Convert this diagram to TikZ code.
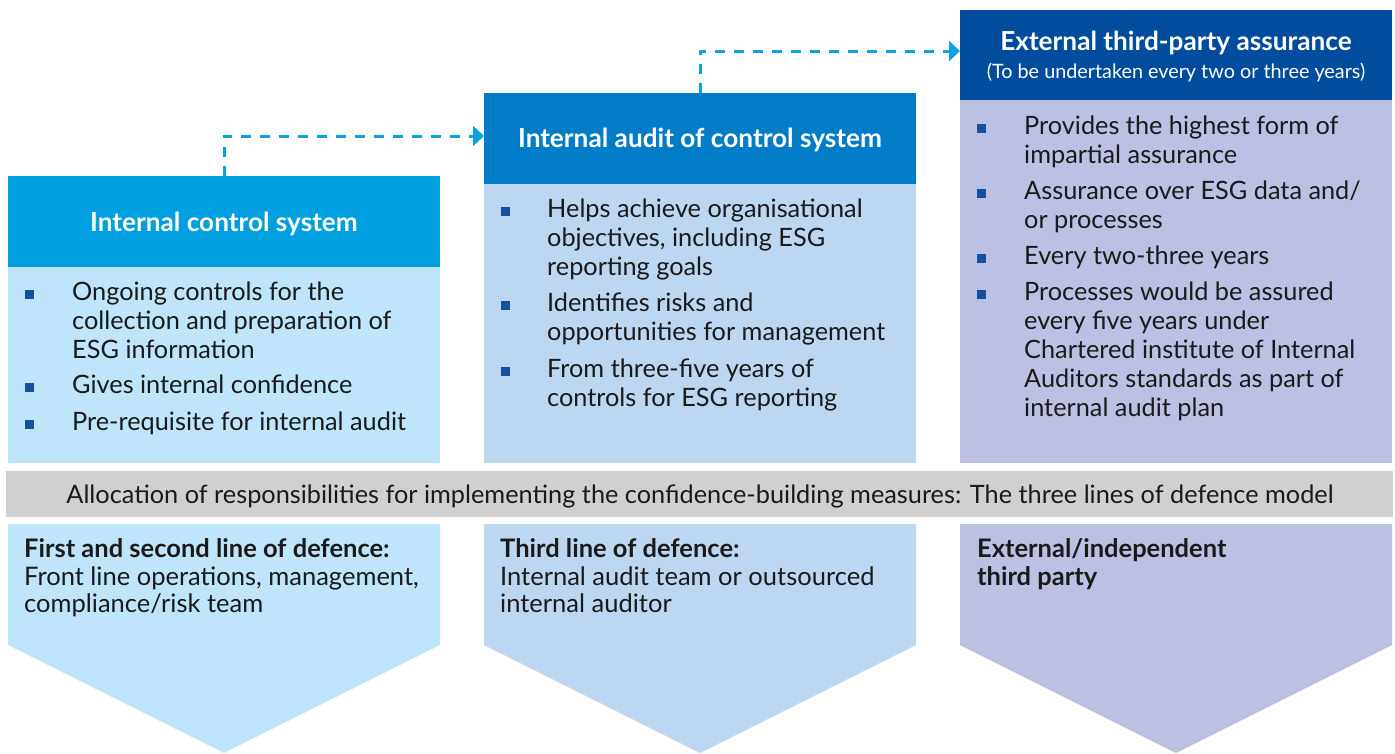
\documentclass[tikz,border=0pt]{standalone}
\usepackage{fontspec}
\setmainfont{Lato}
\usetikzlibrary{arrows.meta}
\definecolor{hdA}{HTML}{009FE0}
\definecolor{bdA}{HTML}{BEE5F9}
\definecolor{hdB}{HTML}{007DC6}
\definecolor{bdB}{HTML}{BDD7F1}
\definecolor{hdC}{HTML}{014C9C}
\definecolor{bdC}{HTML}{BCC0E3}
\definecolor{barG}{HTML}{D0D0D0}
\definecolor{bul}{HTML}{1450A0}
\definecolor{arr}{HTML}{0FA0E0}
\definecolor{ink}{HTML}{1A1A1A}
\tikzset{
  txt/.style={anchor=base west, inner sep=0pt, text=ink, font=\fontsize{25.3}{29}\selectfont},
  ttl/.style={anchor=base, inner sep=0pt, text=white, font=\bfseries\fontsize{26.2}{30}\selectfont},
  sub/.style={anchor=base, inner sep=0pt, text=white, font=\fontsize{19.8}{23}\selectfont},
  bot/.style={anchor=base west, inner sep=0pt, text=ink, font=\fontsize{25.5}{28}\selectfont},
  botb/.style={bot, font=\bfseries\fontsize{25.5}{28}\selectfont},
  sq/.style={fill=bul, draw=none},
  flow/.style={draw=arr, line width=3pt, dash pattern=on 10pt off 9pt, -{Triangle[length=11pt,width=20pt]}},
}
\begin{document}
\begin{tikzpicture}[x=1pt,y=-1pt]
\useasboundingbox (0,0) rectangle (1395,753);
% column boxes
\fill[hdA] (8,176) rectangle (440,267);
\fill[bdA] (8,267) rectangle (440,463);
\fill[hdB] (484,93) rectangle (916,184);
\fill[bdB] (484,184) rectangle (916,463);
\fill[hdC] (960,10) rectangle (1392,100);
\fill[bdC] (960,100) rectangle (1392,463);
\node[inner sep=0pt, minimum width=432pt, minimum height=91pt, anchor=north west] (hA) at (8,176) {};
\node[inner sep=0pt, minimum width=432pt, minimum height=91pt, anchor=north west] (hB) at (484,93) {};
\node[inner sep=0pt, minimum width=432pt, minimum height=90pt, anchor=north west] (hC) at (960,10) {};
% titles
\node[ttl] (tA) at (224,231) {Internal control system};
\node[ttl] (tB) at (700,147) {Internal audit of control system};
\node[ttl] (tC) at (1176,50) {External third-party assurance};
\node[sub] (sC) at (1176,78) {(To be undertaken every two or three years)};
% column 1 bullets
\fill[sq] (25,289.5) rectangle (34,298.5);
\fill[sq] (25,382.5) rectangle (34,391.5);
\fill[sq] (25,419.5) rectangle (34,428.5);
\node[txt] (a1) at (72,300) {Ongoing controls for the};
\node[txt] (a2) at (72,329) {collection and preparation of};
\node[txt] (a3) at (72,358) {ESG information};
\node[txt] (a4) at (72,393) {Gives internal confidence};
\node[txt] (a5) at (72,430) {Pre-requisite for internal audit};
% column 2 bullets
\fill[sq] (501,206.5) rectangle (510,215.5);
\fill[sq] (501,300.5) rectangle (510,309.5);
\fill[sq] (501,366.5) rectangle (510,375.5);
\node[txt] (b1) at (547,217) {Helps achieve organisational};
\node[txt] (b2) at (547,246) {objectives, including ESG};
\node[txt] (b3) at (547,275) {reporting goals};
\node[txt] (b4) at (547,311) {Identifies risks and};
\node[txt] (b5) at (547,340) {opportunities for management};
\node[txt] (b6) at (547,377) {From three-five years of};
\node[txt] (b7) at (547,406) {controls for ESG reporting};
% column 3 bullets
\fill[sq] (977,123.5) rectangle (986,132.5);
\fill[sq] (977,188.5) rectangle (986,197.5);
\fill[sq] (977,253.5) rectangle (986,262.5);
\fill[sq] (977,289.5) rectangle (986,298.5);
\node[txt] (c1) at (1024,134) {Provides the highest form of};
\node[txt] (c2) at (1024,163) {impartial assurance};
\node[txt] (c3) at (1024,199) {Assurance over ESG data and/};
\node[txt] (c4) at (1024,228) {or processes};
\node[txt] (c5) at (1024,264) {Every two-three years};
\node[txt] (c6) at (1024,300) {Processes would be assured};
\node[txt] (c7) at (1024,329) {every five years under};
\node[txt] (c8) at (1024,358) {Chartered institute of Internal};
\node[txt] (c9) at (1024,387) {Auditors standards as part of};
\node[txt] (c10) at (1024,416) {internal audit plan};
% grey bar
\fill[barG] (6,471) rectangle (1393,517);
\node[txt, anchor=base] (bar) at (700,503) {Allocation of responsibilities for implementing the confidence-building measures: The three lines of defence model};
% bottom chevrons
\fill[bdA] (8,524) -- (440,524) -- (440,645) -- (224,753) -- (8,645) -- cycle;
\fill[bdB] (484,524) -- (916,524) -- (916,645) -- (700,753) -- (484,645) -- cycle;
\fill[bdC] (960,524) -- (1392,524) -- (1392,645) -- (1176,753) -- (960,645) -- cycle;
\node[botb] (d1) at (24,557) {First and second line of defence:};
\node[bot] (d2) at (24,585) {Front line operations, management,};
\node[bot] (d3) at (24,612) {compliance/risk team};
\node[botb] (e1) at (500,557) {Third line of defence:};
\node[bot] (e2) at (500,585) {Internal audit team or outsourced};
\node[bot] (e3) at (500,612) {internal auditor};
\node[botb] (f1) at (977,557) {External/independent};
\node[botb] (f2) at (977,585) {third party};
% arrows
\draw[flow] (hA.north) -- ++(0,-40) -- (hB.west |- 0,136);
\draw[flow] (hB.north) |- (hC.west |- 0,51);
\end{tikzpicture}
\end{document}
